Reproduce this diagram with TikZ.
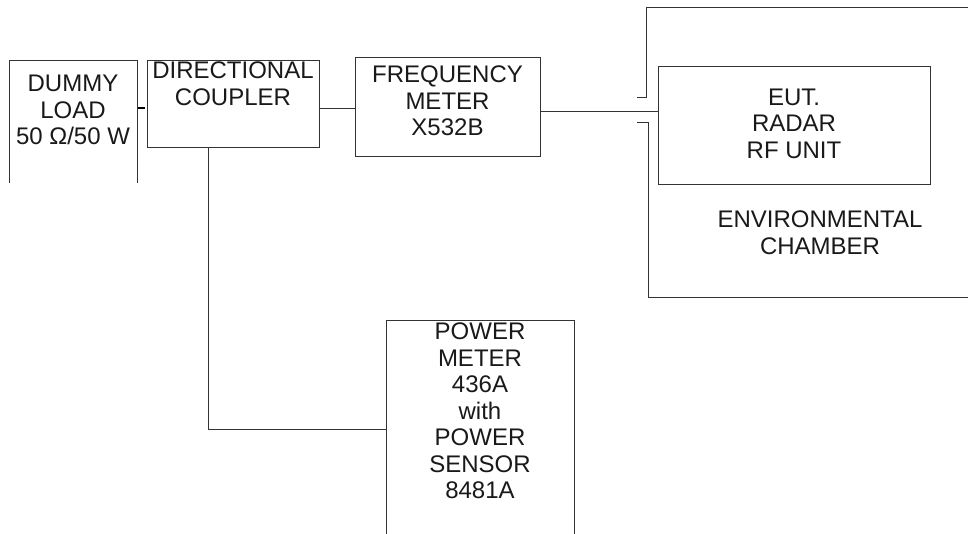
\documentclass[tikz,border=0pt]{standalone}
\usepackage{fontspec}
\setmainfont{Liberation Sans}
\begin{document}
\begin{tikzpicture}[x=1pt,y=-1pt,
  ln/.style={draw=black!80,line width=0.9pt},
  box/.style={ln,rectangle,inner sep=0pt},
  txt/.style={align=center,inner sep=0pt,font=\fontsize{24}{26.5}\selectfont,text=black!90}]
\useasboundingbox (0,0) rectangle (968,534);
% dummy load (open box)
\draw[ln] (9,183) -- (9,60) -- (137,60) -- (137,183);
\node[txt] (dl) at (73,110) {DUMMY\\LOAD\\50 Ω/50 W};
% directional coupler
\node[box,minimum width=172pt,minimum height=87pt] (dc) at (233,103.5) {};
\node[txt] (dct) at (233,83.5) {DIRECTIONAL\\COUPLER};
% frequency meter
\node[box,minimum width=185pt,minimum height=99pt] (fm) at (447.5,106.5) {};
\node[txt] (fmt) at (447.5,101) {FREQUENCY\\METER\\X532B};
% EUT
\node[box,minimum width=272pt,minimum height=118pt] (eut) at (794,125) {};
\node[txt] (eutt) at (794,123.5) {EUT.\\RADAR\\RF UNIT};
% environmental chamber
\draw[ln] (968,7) -- (646,7) -- (646,97) -- (637,97);
\draw[ln] (637,122) -- (648,122) -- (648,297) -- (968,297);
\node[txt] (ch) at (820,232.5) {ENVIRONMENTAL\\CHAMBER};
% power meter (open box)
\draw[ln] (386,534) -- (386,320) -- (574,320) -- (574,534);
\node[txt] (pm) at (480,411) {POWER\\METER\\436A\\with\\POWER\\SENSOR\\8481A};
% connectors
\coordinate (d1) at (138,108);
\draw[draw=black,line width=2.4pt] (d1) -- (145,108);
\coordinate (c1) at (319,108);
\draw[ln] (c1) -- (c1 -| fm.west);
\coordinate (c2) at (540,111.5);
\draw[ln] (c2) -- (c2 -| eut.west);
\coordinate (c3) at (208,147);
\coordinate (c4) at (386,429);
\draw[ln] (c3) -- (c3 |- c4) -- (c4);
\end{tikzpicture}
\end{document}
